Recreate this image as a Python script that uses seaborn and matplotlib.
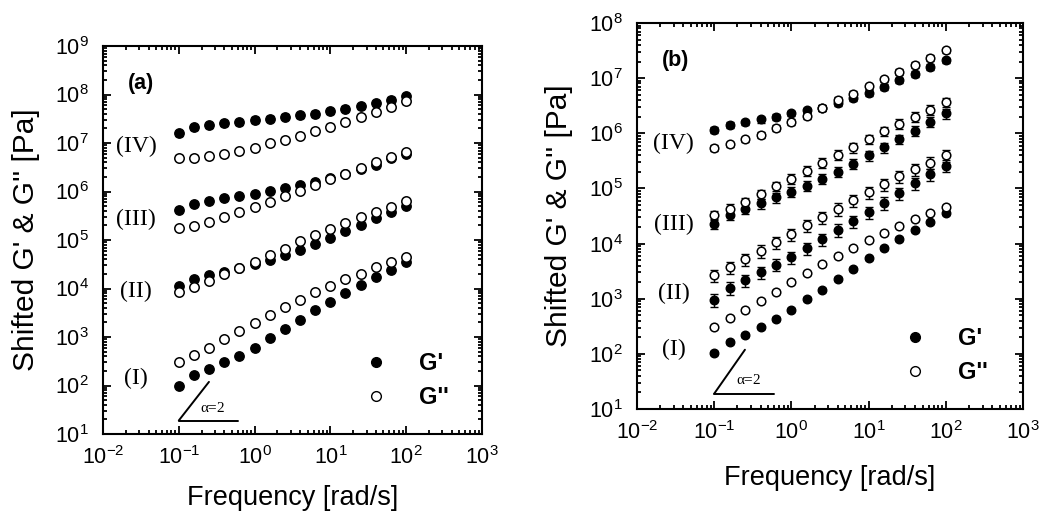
import numpy as np
import pandas as pd
import matplotlib
matplotlib.use("Agg")
import matplotlib.pyplot as plt
from matplotlib.lines import Line2D
from matplotlib.ticker import LogLocator, NullFormatter
import seaborn as sns

# frequency points [rad/s] (5 per decade)
freq = [0.1, 0.158, 0.251, 0.398, 0.631, 1.0, 1.58, 2.51, 3.98, 6.31,
        10.0, 15.8, 25.1, 39.8, 63.1, 100.0]

# ---- panel (a) ----
a_I_G1 = [100, 162, 219, 302, 407, 603, 933, 1450, 2240, 3550, 5370, 7940, 1.17e4, 1.7e4, 2.4e4, 3.5e4]
a_I_G2 = [302, 427, 603, 891, 1320, 1950, 2820, 4070, 5890, 8320, 1.12e4, 1.55e4, 2.04e4, 2.75e4, 3.55e4, 4.57e4]
a_II_G1 = [1.12e4, 1.55e4, 1.86e4, 2.24e4, 2.7e4, 3.2e4, 3.9e4, 4.9e4, 6.3e4, 8.3e4, 1.1e5, 1.5e5, 2.0e5, 2.8e5, 3.8e5, 5.1e5]
a_II_G2 = [8.5e3, 1.1e4, 1.4e4, 1.95e4, 2.6e4, 3.5e4, 4.9e4, 6.6e4, 9.5e4, 1.26e5, 1.66e5, 2.2e5, 2.95e5, 3.8e5, 4.9e5, 6.3e5]
a_III_G1 = [4.2e5, 5.6e5, 6.5e5, 7.2e5, 8.1e5, 9.1e5, 1.02e6, 1.17e6, 1.38e6, 1.58e6, 1.9e6, 2.3e6, 2.95e6, 3.6e6, 4.8e6, 6.0e6]
a_III_G2 = [1.74e5, 1.95e5, 2.34e5, 2.95e5, 3.7e5, 4.7e5, 6.0e5, 7.9e5, 1.02e6, 1.35e6, 1.78e6, 2.3e6, 3.1e6, 4.0e6, 5.1e6, 6.5e6]
a_IV_G1 = [1.6e7, 2.1e7, 2.3e7, 2.6e7, 2.7e7, 3.0e7, 3.2e7, 3.5e7, 3.7e7, 4.0e7, 4.5e7, 5.1e7, 5.8e7, 6.6e7, 7.8e7, 9.3e7]
a_IV_G2 = [5.0e6, 5.0e6, 5.4e6, 5.9e6, 6.8e6, 7.9e6, 9.8e6, 1.17e7, 1.41e7, 1.78e7, 2.19e7, 2.75e7, 3.47e7, 4.37e7, 5.5e7, 7.4e7]

# ---- panel (b) ----
b_I_G1 = [105, 166, 219, 302, 437, 631, 977, 1450, 2290, 3470, 5370, 8300, 1.2e4, 1.78e4, 2.45e4, 3.55e4]
b_I_G2 = [302, 447, 631, 912, 1350, 2000, 2880, 4270, 6030, 8320, 1.17e4, 1.55e4, 2.1e4, 2.8e4, 3.6e4, 4.7e4]
b_II_G1 = [955, 1580, 2140, 3020, 4170, 5620, 8300, 1.2e4, 1.78e4, 2.57e4, 3.7e4, 5.5e4, 8.3e4, 1.23e5, 1.82e5, 2.6e5]
b_II_G2 = [2690, 3720, 5250, 7400, 1.05e4, 1.48e4, 2.14e4, 3.0e4, 4.3e4, 6.2e4, 8.5e4, 1.2e5, 1.66e5, 2.24e5, 2.95e5, 4.0e5]
b_III_G1 = [2.3e4, 3.3e4, 4.3e4, 5.4e4, 6.9e4, 8.7e4, 1.12e5, 1.5e5, 2.0e5, 2.8e5, 4.0e5, 5.6e5, 7.9e5, 1.12e6, 1.62e6, 2.3e6]
b_III_G2 = [3.3e4, 4.3e4, 5.6e4, 7.9e4, 1.1e5, 1.5e5, 2.1e5, 2.95e5, 4.1e5, 5.6e5, 7.9e5, 1.1e6, 1.5e6, 2.0e6, 2.7e6, 3.7e6]
b_IV_G1 = [1.17e6, 1.41e6, 1.58e6, 1.78e6, 2.0e6, 2.3e6, 2.6e6, 2.9e6, 3.6e6, 4.4e6, 5.4e6, 6.9e6, 9.1e6, 1.2e7, 1.62e7, 2.1e7]
b_IV_G2 = [5.5e5, 6.3e5, 7.8e5, 9.5e5, 1.26e6, 1.62e6, 2.1e6, 2.9e6, 4.0e6, 5.2e6, 7.1e6, 9.5e6, 1.29e7, 1.74e7, 2.3e7, 3.2e7]

# rough relative error (error bars) per regime
a_err = [0.08, 0.08, 0.08, 0.12]
b_err = [0.08, 0.25, 0.2, 0.12]

regimes = ["(I)", "(II)", "(III)", "(IV)"]
# label positions (x, y) in data coords
a_lab_pos = [(0.027, 140), (0.027, 8.7e3), (0.027, 2.6e5), (0.028, 8.3e6)]
b_lab_pos = [(0.03, 120), (0.03, 1.26e3), (0.03, 2.2e4), (0.03, 6.5e5)]

sns.set_style("ticks")
plt.rcParams["font.family"] = ["Liberation Sans", "DejaVu Sans"]
plt.rcParams["mathtext.default"] = "regular"
plt.rcParams["text.color"] = "black"
plt.rcParams["axes.labelcolor"] = "black"
plt.rcParams["xtick.color"] = "black"
plt.rcParams["ytick.color"] = "black"

fig = plt.figure(figsize=(10.55, 5.17), dpi=100)
ax_a = fig.add_axes([0.0976, 0.1605, 0.3593, 0.7505])
ax_b = fig.add_axes([0.6038, 0.2089, 0.3659, 0.7466])


def draw_panel(ax, g1s, g2s, errs, lab_pos, ymin, ymax, tag, tag_pos, msize):
    for g1, g2, e in zip(g1s, g2s, errs):
        g1 = np.array(g1)
        g2 = np.array(g2)
        ax.errorbar(freq, g1, yerr=g1 * e, fmt="none", ecolor="black",
                    elinewidth=1, capsize=3, capthick=1, zorder=2)
        ax.errorbar(freq, g2, yerr=g2 * e, fmt="none", ecolor="black",
                    elinewidth=1, capsize=3, capthick=1, zorder=2)
        df = pd.DataFrame({"w": freq, "G1": g1, "G2": g2})
        sns.scatterplot(data=df, x="w", y="G1", ax=ax, color="black",
                        edgecolor="black", s=msize, linewidth=1, zorder=3)
        sns.scatterplot(data=df, x="w", y="G2", ax=ax, color="white",
                        edgecolor="black", s=msize, linewidth=1.1, zorder=3)
    ax.set_xscale("log")
    ax.set_yscale("log")
    ax.set_xlim(1e-2, 1e3)
    ax.set_ylim(ymin, ymax)
    ax.xaxis.set_major_locator(LogLocator(base=10, numticks=20))
    ax.yaxis.set_major_locator(LogLocator(base=10, numticks=20))
    ax.xaxis.set_minor_locator(LogLocator(base=10, subs=np.arange(2, 10), numticks=50))
    ax.yaxis.set_minor_locator(LogLocator(base=10, subs=np.arange(2, 10), numticks=50))
    ax.xaxis.set_minor_formatter(NullFormatter())
    ax.yaxis.set_minor_formatter(NullFormatter())
    ax.tick_params(which="both", direction="in", top=True, right=True, width=1.3, color="black")
    ax.tick_params(which="major", length=6, labelsize=15.5)
    ax.tick_params(which="minor", length=3)
    ax.tick_params(axis="x", which="major", pad=9)
    ax.tick_params(axis="y", which="major", pad=10)
    for sp in ax.spines.values():
        sp.set_linewidth(1.5)
        sp.set_color("black")
    ax.set_xlabel("Frequency [rad/s]", fontsize=19.5)
    ax.set_ylabel("Shifted G' & G'' [Pa]", fontsize=21.5)

    # regime labels
    for lab, (x, y) in zip(regimes, lab_pos):
        ax.text(x, y, lab, fontsize=17, family="Liberation Serif",
                ha="center", va="center")
    ax.text(tag_pos[0], tag_pos[1], tag, fontsize=15.5, fontweight="bold",
            ha="center", va="center")

    # slope triangle alpha = 2
    ax.plot([0.1, 0.6], [19, 19], color="black", lw=1.4)
    ax.plot([0.1, 0.25], [19, 19 * 2.5 ** 2], color="black", lw=1.4)
    ax.text(0.19, 34, r"$\alpha$=2", fontsize=11, family="Liberation Serif",
            ha="left", va="center")

    handles = [Line2D([], [], marker="o", ls="none", color="black", markersize=7),
               Line2D([], [], marker="o", ls="none", markerfacecolor="white",
                      markeredgecolor="black", markersize=7)]
    ax.legend(handles, ["G'", "G''"], loc="center left", bbox_to_anchor=(0.69, 0.138),
              frameon=False, handlelength=1, handletextpad=1.3, labelspacing=0.45,
              borderpad=0, borderaxespad=0, prop={"size": 17, "weight": "bold"})


draw_panel(ax_a, [a_I_G1, a_II_G1, a_III_G1, a_IV_G1],
           [a_I_G2, a_II_G2, a_III_G2, a_IV_G2], a_err, a_lab_pos,
           10, 1e9, "(a)", (0.032, 1.7e8), 46)
draw_panel(ax_b, [b_I_G1, b_II_G1, b_III_G1, b_IV_G1],
           [b_I_G2, b_II_G2, b_III_G2, b_IV_G2], b_err, b_lab_pos,
           10, 1e8, "(b)", (0.032, 2.1e7), 38)

ax_a.yaxis.set_label_coords(-0.166, 0.5)
ax_b.yaxis.set_label_coords(-0.166, 0.5)
ax_a.xaxis.set_label_coords(0.5, -0.131)
ax_b.xaxis.set_label_coords(0.5, -0.145)

fig.savefig("out.png", dpi=100)
